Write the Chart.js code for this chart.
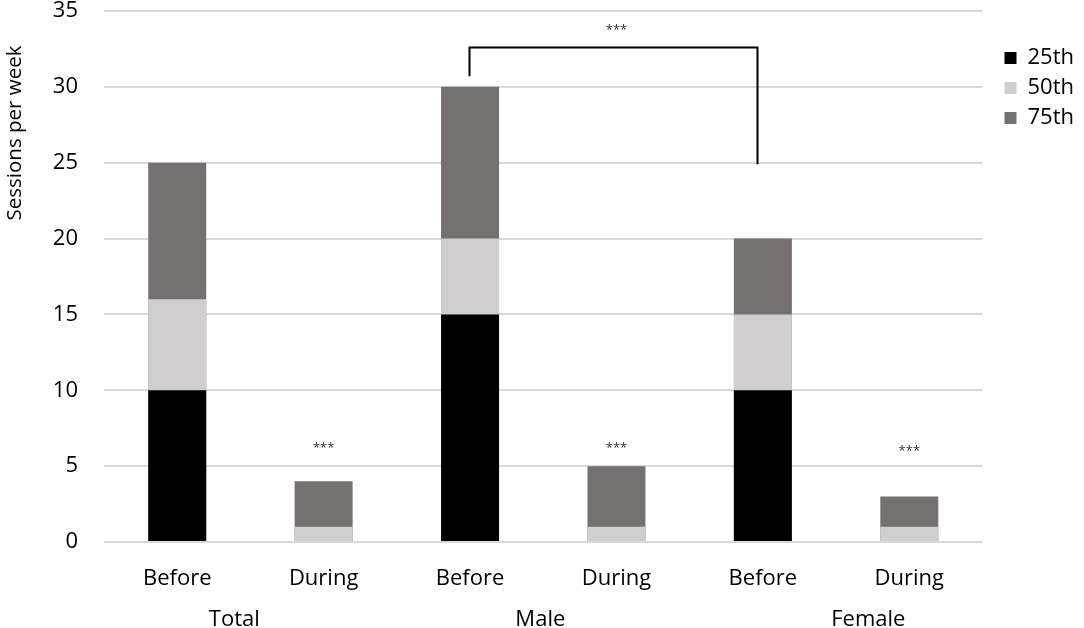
<!DOCTYPE html>
<html>
<head>
<meta charset="utf-8">
<script src="https://cdn.jsdelivr.net/npm/chart.js@4.4.1/dist/chart.umd.min.js"></script>
<style>
  html, body { margin: 0; padding: 0; background: #fff; }
  #wrap { width: 1084px; height: 628px; }
</style>
</head>
<body>
<div id="wrap"><canvas id="chart" width="1084" height="628"></canvas></div>
<script>
// datos
const phases = ['Before', 'During', 'Before', 'During', 'Before', 'During']
const groups = ['Total', 'Male', 'Female']
const groupAt = [0.39, 2.48, 4.72] // posición de cada etiqueta de grupo (índice de categoría)
const p25 = [10, 0, 15, 0, 10, 0]
const p50 = [16, 1, 20, 1, 15, 1]
const p75 = [25, 4, 30, 5, 20, 3]
const yMin = 0
const yMax = 35
const yStep = 5
// marcas de significancia
const starsAt = [[1, 6.2], [3, 6.2], [5, 6.0], [3, 33.7]]
const bracket = { from: 1.99, to: 3.96, top: 32.6, leftEnd: 30.7, rightEnd: 24.9 }

const FONT = "'Open Sans', sans-serif"

// baja la leyenda para que empiece a la altura del corchete
const legendShift = {
  id: 'legendShift',
  afterLayout(chart) {
    chart.legend.top += 39
    chart.legend.bottom += 39
  },
}

const annotations = {
  id: 'annotations',
  afterDatasetsDraw(chart) {
    const { ctx, scales: { x, y } } = chart
    ctx.save()

    // asteriscos
    ctx.fillStyle = '#333'
    ctx.font = `13px ${FONT}`
    ctx.textAlign = 'center'
    ctx.textBaseline = 'middle'
    starsAt.forEach(([i, v]) => {
      ctx.fillText('***', x.getPixelForValue(i), y.getPixelForValue(v))
    })

    // corchete Male Before - Female Before
    const xl = Math.round(x.getPixelForValue(bracket.from)) + 0.5
    const xr = Math.round(x.getPixelForValue(bracket.to)) + 0.5
    const yt = Math.round(y.getPixelForValue(bracket.top)) + 0.5
    ctx.strokeStyle = '#000'
    ctx.lineWidth = 2
    ctx.beginPath()
    ctx.moveTo(xl, y.getPixelForValue(bracket.leftEnd))
    ctx.lineTo(xl, yt)
    ctx.lineTo(xr, yt)
    ctx.lineTo(xr, y.getPixelForValue(bracket.rightEnd))
    ctx.stroke()

    // etiquetas de grupo
    ctx.fillStyle = '#000'
    ctx.font = `22px ${FONT}`
    groups.forEach((g, i) => {
      ctx.fillText(g, x.getPixelForValue(groupAt[i]), 620)
    })

    // título del eje y
    ctx.translate(15, 133)
    ctx.rotate(-Math.PI / 2)
    ctx.font = `20.5px ${FONT}`
    ctx.fillText('Sessions per week', 0, 0)
    ctx.restore()
  },
}

const ctx = document.getElementById('chart').getContext('2d')

new Chart(ctx, {
  type: 'bar',
  data: {
    labels: phases,
    datasets: [
      { label: '25th', data: p25, backgroundColor: '#000000' },
      { label: '50th', data: p50, backgroundColor: '#d0cece' },
      { label: '75th', data: p75, backgroundColor: '#767171' },
    ],
  },
  options: {
    responsive: false,
    animation: false,
    layout: { padding: 0 },
    datasets: {
      bar: { categoryPercentage: 1, barPercentage: 0.396 },
    },
    scales: {
      x: {
        stacked: true,
        grid: { display: false, drawTicks: false },
        border: { display: false },
        ticks: { color: '#000', font: { family: FONT, size: 22 }, padding: 24 },
        afterFit: s => { s.height = 86 },
      },
      y: {
        stacked: false,
        min: yMin,
        max: yMax,
        grid: { color: '#d9d9d9', lineWidth: 2, drawTicks: false },
        border: { display: false },
        ticks: { stepSize: yStep, color: '#000', font: { family: FONT, size: 22 }, padding: 26 },
        afterFit: s => {
          s.width = 104
          s.paddingTop = 11 // el padding de los ticks empujaba el área hacia abajo
        },
      },
      y2: {
        position: 'right',
        display: true,
        grid: { display: false, drawTicks: false },
        border: { display: false },
        ticks: { display: false },
        afterFit: s => { s.width = 14 },
      },
    },
    plugins: {
      legend: {
        position: 'right',
        align: 'start',
        labels: {
          boxWidth: 12,
          boxHeight: 12,
          padding: 8,
          color: '#000',
          font: { family: FONT, size: 22 },
        },
      },
      tooltip: { enabled: false },
    },
  },
  plugins: [legendShift, annotations],
})
</script>
</body>
</html>
